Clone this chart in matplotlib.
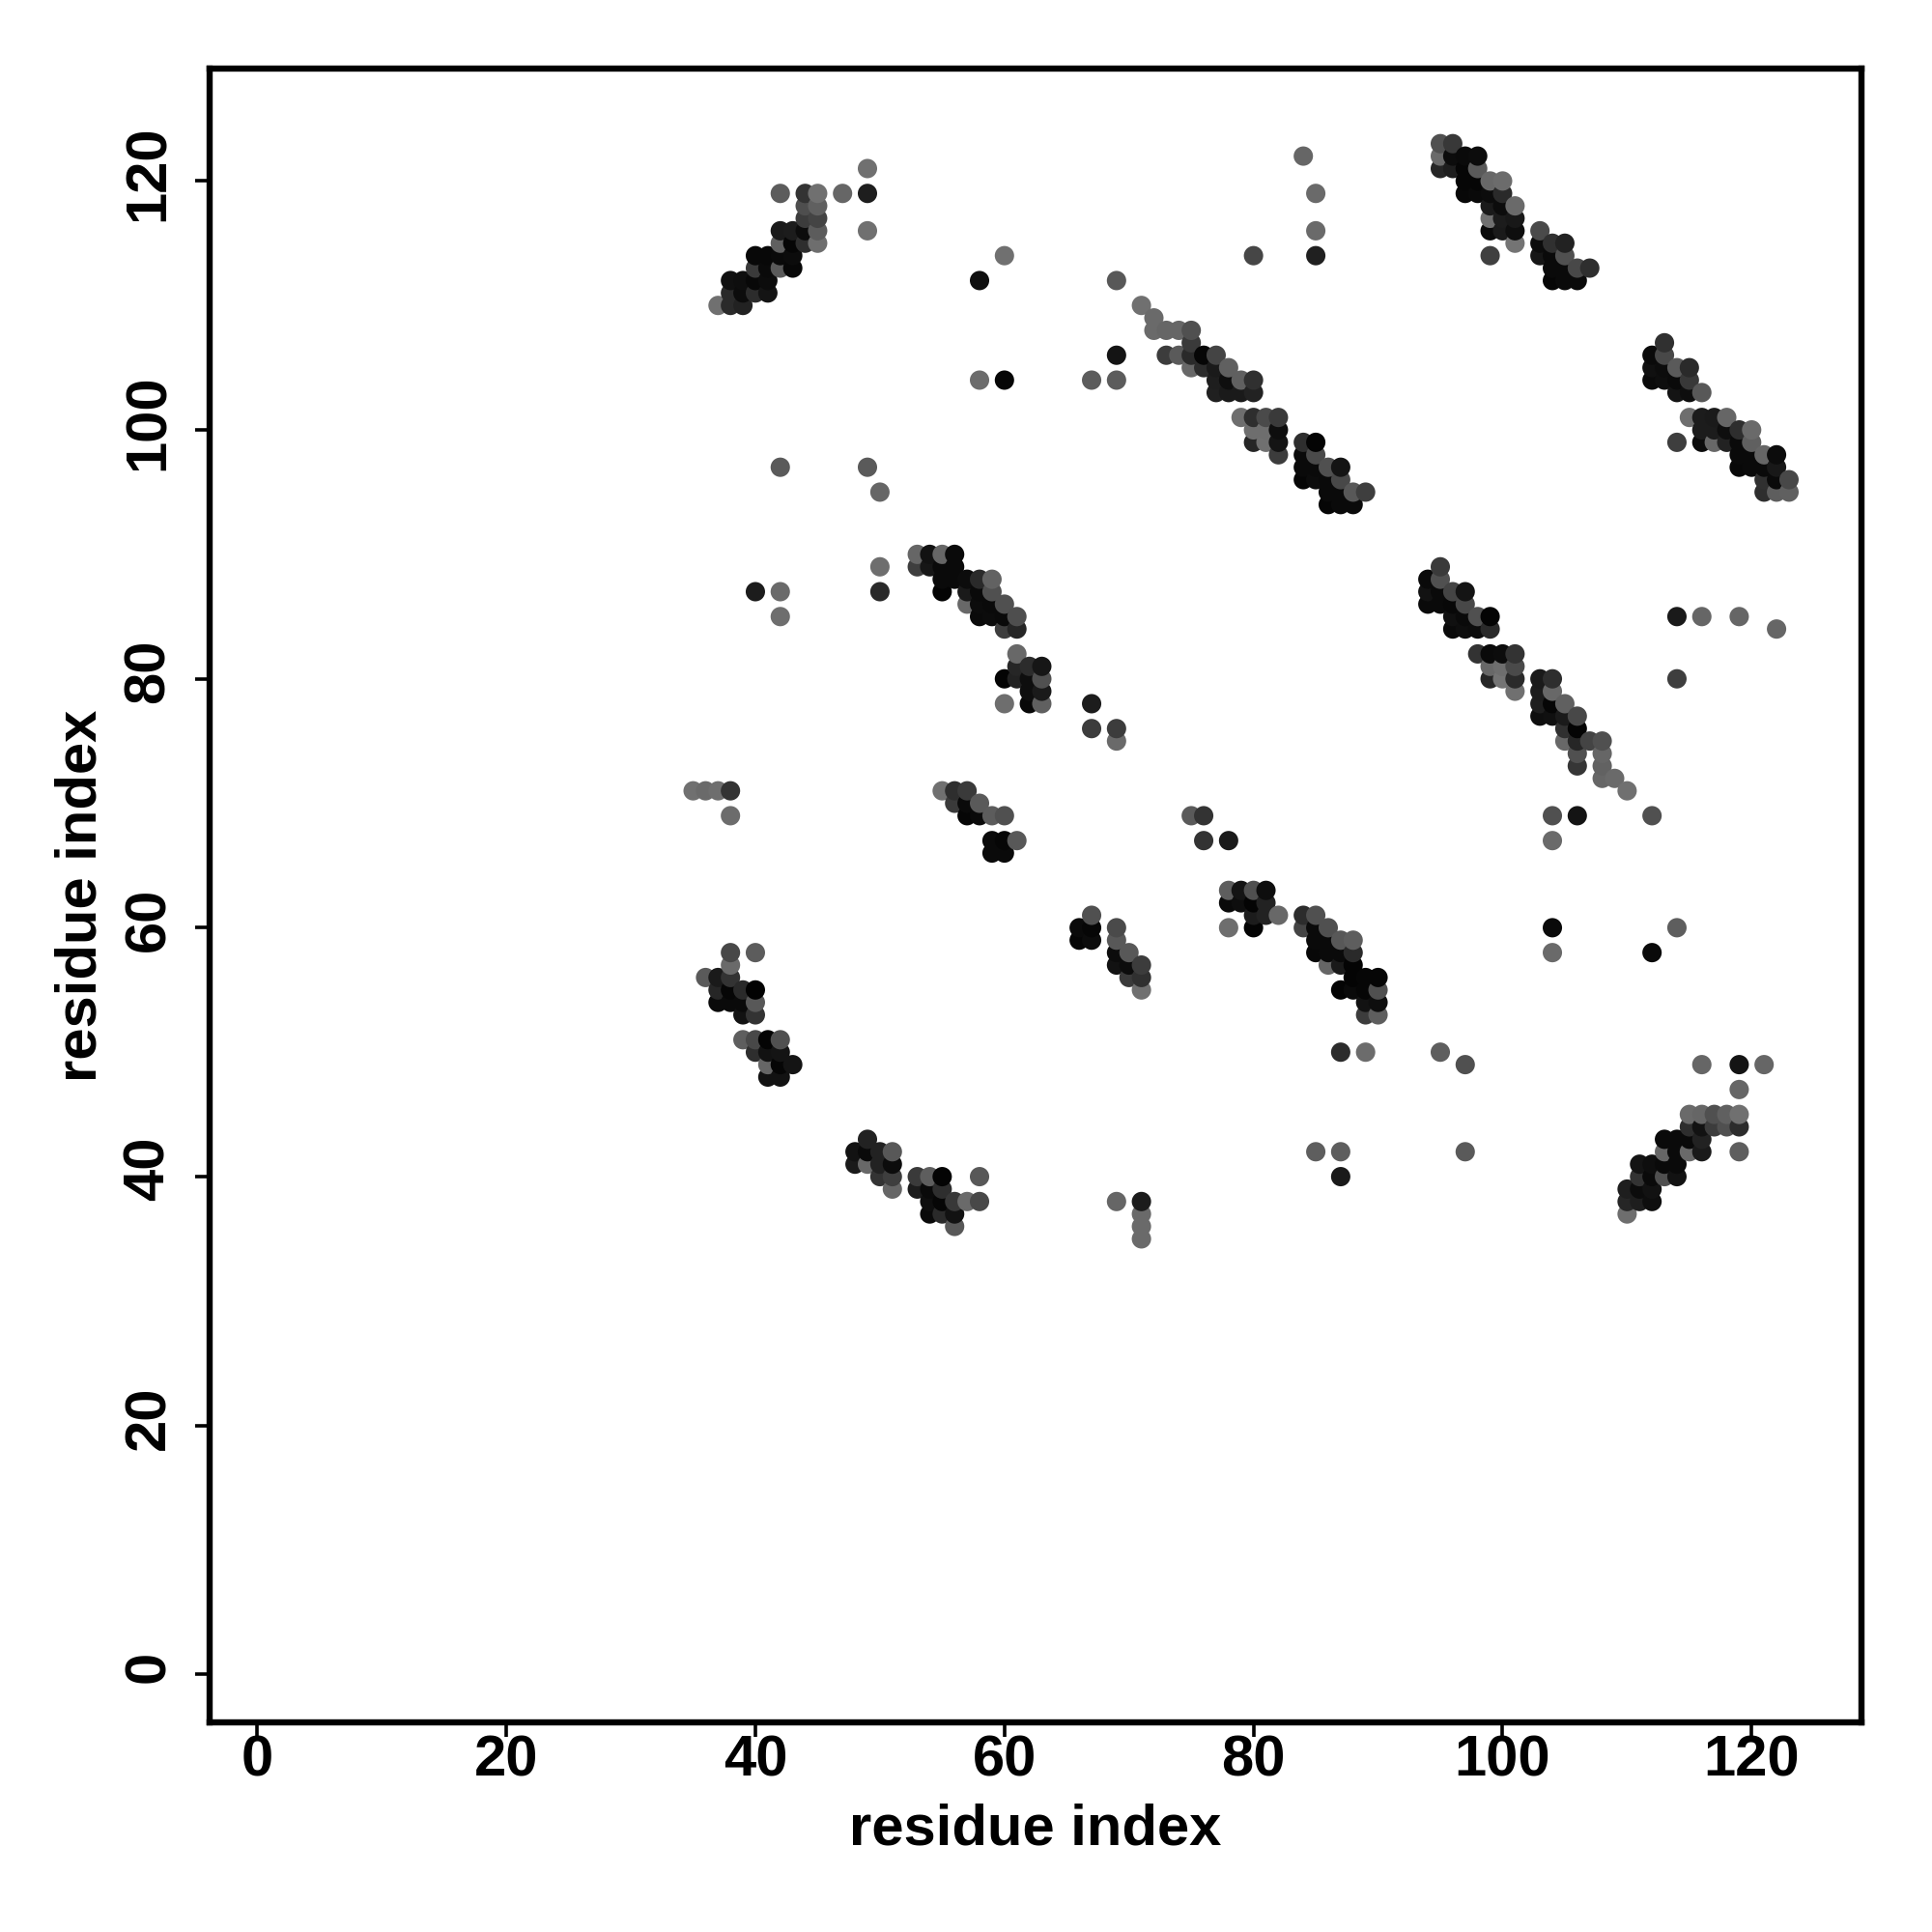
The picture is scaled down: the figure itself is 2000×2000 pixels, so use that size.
import numpy as np
import matplotlib
matplotlib.use('Agg')
import matplotlib.pyplot as plt
from matplotlib.transforms import ScaledTranslation

plt.rcParams['font.family'] = ['Liberation Sans', 'DejaVu Sans']
plt.rcParams['font.weight'] = 'bold'

tick_vals = [0, 20, 40, 60, 80, 100, 120]

# (x residue, y residue, grey 0-255)
top_left = [
    (37,110,0x70),(38,110,0x2a),(39,110,0x22),(38,111,0x2a),(39,111,0x0c),(40,111,0x2c),(41,111,0x14),
    (38,112,0x10),(39,112,0x0e),(40,112,0x08),(41,112,0x0c),(40,113,0x3a),(41,113,0x0a),(42,113,0x5a),
    (43,113,0x08),(40,114,0x08),(41,114,0x08),(42,114,0x0a),(43,114,0x0c),(42,115,0x60),(43,115,0x06),
    (44,115,0x2e),(45,115,0x6e),(42,116,0x1a),(43,116,0x1c),(44,116,0x0c),(45,116,0x5c),(44,117,0x3c),
    (45,117,0x44),(44,118,0x4e),(45,118,0x60),(42,119,0x5c),(44,119,0x33),(45,119,0x70),(47,119,0x66),
    (49,119,0x1e),(49,116,0x70),(49,121,0x70),
]
top_singles = [
    (60,114,0x70),(58,112,0x0e),(69,112,0x58),(69,106,0x14),(58,104,0x6c),(60,104,0x06),(67,104,0x5c),
    (69,104,0x5c),(84,122,0x66),(85,119,0x6a),(85,116,0x6a),(85,114,0x20),(80,114,0x46),
]
top_mid = [
    (95,123,0x50),(96,123,0x38),(95,122,0x6a),(96,122,0x0c),(97,122,0x0a),(98,122,0x0c),(95,121,0x26),
    (96,121,0x1e),(97,121,0x06),(98,121,0x5a),(97,120,0x06),(98,120,0x06),(99,120,0x68),(100,120,0x6c),
    (97,119,0x08),(98,119,0x0a),(99,119,0x0c),(100,119,0x2a),(99,118,0x1a),(100,118,0x0c),(101,118,0x6a),
    (99,117,0x70),(100,117,0x1c),(101,117,0x18),(99,116,0x0a),(100,116,0x1a),(101,116,0x0e),(101,115,0x74),
    (99,114,0x40),(103,116,0x4a),(103,115,0x0c),(104,115,0x30),(105,115,0x22),(103,114,0x16),(104,114,0x0a),
    (105,114,0x50),(104,113,0x0a),(105,113,0x0a),(106,113,0x48),(107,113,0x2e),(104,112,0x06),(105,112,0x0a),
    (106,112,0x0a),
]
centre_diag = [
    (71,110,0x70),(72,109,0x6a),(72,108,0x6a),(73,108,0x66),(74,108,0x66),(75,108,0x50),(75,107,0x3a),
    (73,106,0x3c),(74,106,0x5a),(75,106,0x2a),(76,106,0x06),(77,106,0x44),(75,105,0x68),(76,105,0x2c),
    (77,105,0x1a),(78,105,0x60),(77,104,0x1e),(78,104,0x0e),(79,104,0x60),(80,104,0x30),(77,103,0x20),
    (78,103,0x1a),(79,103,0x1a),(80,103,0x22),(79,101,0x6e),(80,101,0x2e),(81,101,0x4a),(82,101,0x3a),
    (80,100,0x6e),(81,100,0x6e),(82,100,0x0e),(80,99,0x26),(81,99,0x70),(82,99,0x14),(82,98,0x3c),
    (84,99,0x2e),(85,99,0x04),(84,98,0x0a),(85,98,0x4a),(84,97,0x0a),(85,97,0x0a),(86,97,0x50),(87,97,0x14),
    (84,96,0x06),(85,96,0x0c),(86,96,0x0a),(87,96,0x48),(86,95,0x0a),(87,95,0x0a),(88,95,0x58),(89,95,0x3e),
    (86,94,0x06),(87,94,0x0a),(88,94,0x0a),
]
right_diag = [
    (113,107,0x30),(112,106,0x0a),(113,106,0x48),(112,105,0x10),(113,105,0x0c),(114,105,0x5a),(115,105,0x2a),
    (112,104,0x0a),(113,104,0x0e),(114,104,0x0a),(115,104,0x38),(114,103,0x14),(115,103,0x0e),(116,103,0x58),
    (115,101,0x6e),(116,101,0x1c),(117,101,0x1a),(118,101,0x66),(116,100,0x1c),(117,100,0x1c),(118,100,0x0e),
    (119,100,0x2e),(120,100,0x6a),(114,99,0x3e),(116,99,0x0c),(117,99,0x68),(118,99,0x22),(119,99,0x0a),
    (120,99,0x60),(119,98,0x0a),(120,98,0x0a),(121,98,0x66),(122,98,0x0c),(119,97,0x08),(120,97,0x0a),
    (121,97,0x0a),(122,97,0x18),(121,96,0x30),(122,96,0x0a),(123,96,0x48),(121,95,0x2e),(122,95,0x5e),
    (123,95,0x60),
]
mid_left = [
    (53,90,0x66),(54,90,0x12),(55,90,0x66),(56,90,0x0a),(53,89,0x3e),(54,89,0x16),(55,89,0x0a),(56,89,0x0a),
    (55,88,0x0a),(56,88,0x0a),(57,88,0x0c),(58,88,0x2a),(59,88,0x62),(55,87,0x04),(57,87,0x1a),(58,87,0x0a),
    (59,87,0x50),(57,86,0x68),(58,86,0x0c),(59,86,0x0a),(60,86,0x50),(58,85,0x0a),(59,85,0x0c),(60,85,0x0a),
    (61,85,0x4e),(60,84,0x3e),(61,84,0x26),(61,82,0x68),(61,81,0x26),(62,81,0x2c),(63,81,0x16),(60,80,0x04),
    (61,80,0x22),(62,80,0x0e),(63,80,0x50),(62,79,0x0e),(63,79,0x1a),(60,78,0x6e),(62,78,0x08),(63,78,0x60),
]
mid_right = [
    (95,89,0x3a),(94,88,0x0a),(95,88,0x50),(94,87,0x12),(95,87,0x0a),(96,87,0x44),(97,87,0x14),(94,86,0x0a),
    (95,86,0x0a),(96,86,0x08),(97,86,0x48),(96,85,0x10),(97,85,0x0a),(98,85,0x50),(99,85,0x04),(96,84,0x0a),
    (97,84,0x0e),(98,84,0x0c),(99,84,0x2a),(98,82,0x33),(99,82,0x0a),(100,82,0x0c),(101,82,0x33),(99,81,0x68),
    (100,81,0x6e),(101,81,0x4a),(99,80,0x26),(100,80,0x74),(101,80,0x2a),(101,79,0x70),(103,80,0x1a),
    (104,80,0x2e),(103,79,0x1c),(104,79,0x68),(103,78,0x1e),(104,78,0x06),(105,78,0x60),(103,77,0x0e),
    (104,77,0x10),(105,77,0x1a),(106,77,0x48),(105,76,0x30),(106,76,0x04),(105,75,0x68),(106,75,0x26),
    (107,75,0x44),(108,75,0x50),(106,74,0x50),(108,74,0x66),(106,73,0x36),(108,73,0x62),(108,72,0x66),
    (109,72,0x6a),(110,71,0x70),
]
row_71 = [
    (35,71,0x70),(36,71,0x6a),(37,71,0x6e),(38,71,0x33),(38,69,0x6c),(55,71,0x70),(56,71,0x2e),(57,71,0x3a),
    (56,70,0x3a),(57,70,0x0a),(58,70,0x5a),(57,69,0x06),(58,69,0x0a),(59,69,0x5c),(60,69,0x50),(59,67,0x0a),
    (60,67,0x06),(61,67,0x58),(59,66,0x0a),(60,66,0x0a),
]
low_left = [
    (38,58,0x48),(40,58,0x5c),(38,57,0x6a),(36,56,0x5a),(37,56,0x1a),(38,56,0x33),(37,55,0x26),(38,55,0x06),
    (39,55,0x2a),(40,55,0x02),(37,54,0x0a),(38,54,0x0a),(39,54,0x0a),(40,54,0x58),(39,53,0x12),(40,53,0x33),
    (39,51,0x5e),(40,51,0x48),(41,51,0x04),(42,51,0x50),(40,50,0x2e),(41,50,0x12),(42,50,0x14),(41,49,0x66),
    (42,49,0x06),(43,49,0x14),(41,48,0x12),(42,48,0x12),
]
low_mid = [
    (67,61,0x50),(66,60,0x0a),(67,60,0x06),(69,60,0x4a),(66,59,0x06),(67,59,0x0c),(69,59,0x58),(69,58,0x0c),
    (70,58,0x58),(69,57,0x12),(70,57,0x0c),(71,57,0x3c),(70,56,0x3a),(71,56,0x30),(71,55,0x70),
    (78,63,0x5e),(79,63,0x14),(80,63,0x50),(81,63,0x0e),(78,62,0x0a),(79,62,0x0e),(80,62,0x04),(81,62,0x22),
    (80,61,0x1c),(81,61,0x22),(82,61,0x68),(78,60,0x6e),(80,60,0x04),
    (84,61,0x2c),(85,61,0x50),(84,60,0x44),(85,60,0x0a),(86,60,0x50),(85,59,0x0a),(86,59,0x0a),(87,59,0x58),
    (88,59,0x5e),(85,58,0x08),(86,58,0x0a),(87,58,0x0a),(88,58,0x2a),(86,57,0x66),(87,57,0x1a),(88,57,0x04),
    (88,56,0x04),(89,56,0x06),(90,56,0x06),(87,55,0x04),(88,55,0x0a),(89,55,0x06),(90,55,0x50),(89,54,0x12),
    (90,54,0x0e),(89,53,0x3c),(90,53,0x5e),(87,50,0x2c),(89,50,0x6c),
]
bottom_left = [
    (49,43,0x22),(48,42,0x12),(49,42,0x0a),(50,42,0x22),(51,42,0x58),(48,41,0x1a),(49,41,0x68),(50,41,0x22),
    (51,41,0x0c),(50,40,0x33),(51,40,0x3e),(51,39,0x66),(53,40,0x3a),(54,40,0x5e),(55,40,0x04),(58,40,0x58),
    (53,39,0x1c),(54,39,0x0a),(55,39,0x2e),(54,38,0x0e),(55,38,0x06),(56,38,0x38),(57,38,0x6a),(58,38,0x48),
    (54,37,0x0a),(55,37,0x2a),(56,37,0x12),(56,36,0x58),
]
bottom_right = [
    (119,47,0x66),(115,45,0x6a),(116,45,0x66),(117,45,0x50),(118,45,0x60),(119,45,0x70),(115,44,0x2e),
    (116,44,0x12),(117,44,0x3c),(118,44,0x50),(119,44,0x2c),(113,43,0x0a),(114,43,0x0a),(115,43,0x0a),
    (116,43,0x22),(113,42,0x66),(114,42,0x0a),(115,42,0x6a),(116,42,0x1a),(111,41,0x14),(112,41,0x0e),
    (113,41,0x0a),(114,41,0x0a),(111,40,0x33),(112,40,0x0a),(113,40,0x50),(114,40,0x12),(110,39,0x1e),
    (111,39,0x0c),(112,39,0x12),(110,38,0x26),(111,38,0x1e),(112,38,0x0e),(110,37,0x6e),
]
singles = [
    (42,97,0x5a),(49,97,0x5a),(50,95,0x66),(50,89,0x6e),(50,87,0x2a),(40,87,0x1c),(42,87,0x6a),(42,85,0x6e),
    (67,78,0x1c),(67,76,0x3c),(69,76,0x3c),(69,75,0x6a),(75,69,0x5a),(76,69,0x33),(76,67,0x33),(78,67,0x1a),
    (104,69,0x50),(106,69,0x14),(104,67,0x6a),(112,69,0x50),(104,60,0x0a),(104,58,0x6a),(112,58,0x0a),
    (114,60,0x5e),(114,85,0x1a),(116,85,0x66),(119,85,0x66),(122,84,0x66),(114,80,0x3e),(116,49,0x66),
    (119,49,0x14),(121,49,0x66),(119,42,0x5e),(95,50,0x5e),(97,49,0x50),(97,42,0x5a),(85,42,0x5e),
    (87,42,0x5e),(87,40,0x1a),(69,38,0x66),(71,38,0x1c),(71,37,0x6a),(71,36,0x6a),(71,35,0x6a),
]

contacts = np.array(top_left + top_singles + top_mid + centre_diag + right_diag + mid_left + mid_right
                    + row_71 + low_left + low_mid + bottom_left + bottom_right + singles)
order = np.lexsort((contacts[:, 1], contacts[:, 0]))
contacts = contacts[order]
colors = [(g / 255, g / 255, g / 255) for g in contacts[:, 2]]

fig = plt.figure(figsize=(10, 10), dpi=200)
ax = fig.add_axes([216.8 / 2000, 1 - 1783 / 2000, (1927 - 216.8) / 2000, (1783 - 71.4) / 2000])
ax.scatter(contacts[:, 0], contacts[:, 1], c=colors, s=52, linewidths=0)
ax.set_xlim(-3.84, 128.82)
ax.set_ylim(-3.85, 129)
ax.set_xticks(tick_vals)
ax.set_yticks(tick_vals)
ax.tick_params(axis='both', length=5.5, width=1.3, labelsize=21.5)
ax.tick_params(axis='x', pad=-1)
ax.tick_params(axis='y', pad=7)
# rotated labels sit a little low otherwise
shift_up = ScaledTranslation(0, 3 / 72, fig.dpi_scale_trans)
for lab in ax.get_yticklabels():
    lab.set_rotation(90)
    lab.set_va('center')
    lab.set_transform(lab.get_transform() + shift_up)
for s in ax.spines.values():
    s.set_linewidth(2.3)
ax.set_xlabel('residue index', fontsize=21.5, fontweight='bold')
ax.set_ylabel('residue index', fontsize=21.5, fontweight='bold')
ax.xaxis.set_label_coords(0.5, -0.0488)
ax.yaxis.set_label_coords(-0.0618, 0.5)
fig.savefig('out.png', dpi=200)
